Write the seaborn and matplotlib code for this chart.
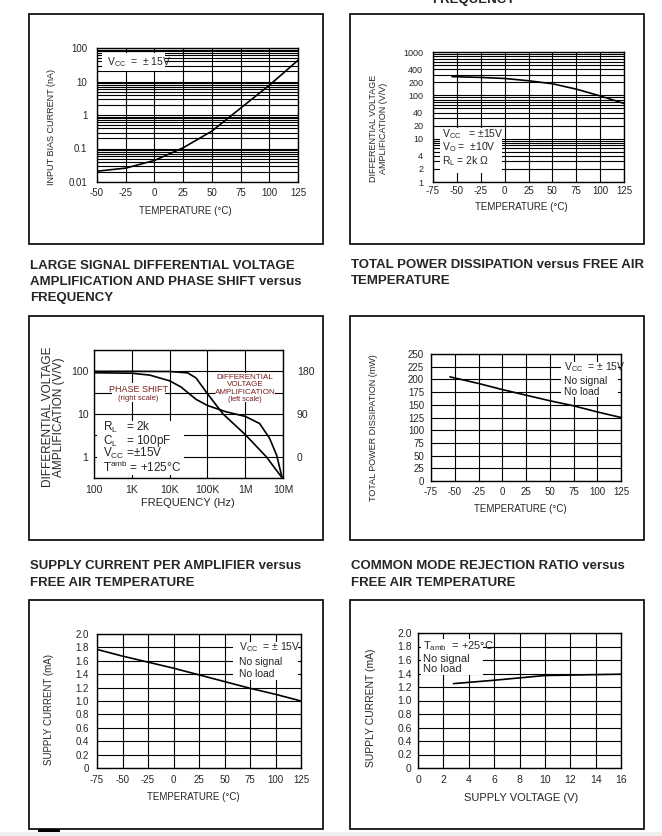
import numpy as np
import matplotlib
matplotlib.use('Agg')
import matplotlib.pyplot as plt
import seaborn as sns
from matplotlib import font_manager
from matplotlib.patches import Rectangle
from matplotlib.ticker import LogLocator, NullFormatter, FixedLocator

sns.set_style('white')


def has_font(name):
    try:
        font_manager.findfont(name, fallback_to_default=False)
        return True
    except Exception:
        return False


REG = 'Liberation Sans'
NARROW = 'Liberation Sans Narrow' if has_font('Liberation Sans Narrow') else REG
plt.rcParams['font.family'] = [REG, 'DejaVu Sans']

# ---- data ----
# input bias current vs temperature
temp_ib = [-50, -25, 0, 25, 50, 75, 100, 125]
ibias_na = [0.021, 0.026, 0.044, 0.105, 0.33, 1.6, 7.7, 43]

# differential voltage amplification vs temperature
temp_av = [-55, -25, 0, 25, 50, 75, 100, 125]
avd_vv = [270, 259, 245, 217, 185, 139, 97, 65]

# large signal gain / phase vs frequency
freq_gain = [1e2, 1e3, 1e4, 3e4, 5e4, 1e5, 2.6e5, 1e6, 3.6e6, 9.2e6]
gain_vv = [100, 100, 99, 92, 70, 30, 10, 3.3, 1.0, 0.33]
freq_phase = [1e2, 1e3, 3e3, 1e4, 2e4, 5e4, 1e5, 3e5, 1e6, 2.4e6, 4.4e6, 6.8e6, 9.5e6]
phase_deg = [177, 176, 172, 160, 147, 121, 108, 95, 85, 70, 39, 3, -45]

# total power dissipation vs temperature
temp_pd = [-55, -25, 0, 25, 50, 75, 100, 125]
pd_mw = [205, 192, 180, 169, 158, 148, 136, 125]

# supply current per amplifier vs temperature
temp_icc = [-75, -50, -25, 0, 25, 50, 75, 100, 125]
icc_ma = [1.77, 1.67, 1.58, 1.49, 1.39, 1.29, 1.19, 1.10, 1.0]

# supply current vs supply voltage
vcc_v = [2.8, 6, 10, 16]
icc2_ma = [1.25, 1.30, 1.37, 1.39]

temp_ticks = [-75, -50, -25, 0, 25, 50, 75, 100, 125]
freq_ticks = [1e2, 1e3, 1e4, 1e5, 1e6, 1e7]
freq_labels = ['100', '1K', '10K', '100K', '1M', '10M']

W, H = 662, 836
fig = plt.figure(figsize=(W / 100, H / 100), dpi=100)


def px_axes(l, t, r, b):
    return fig.add_axes([l / W, 1 - b / H, (r - l) / W, (b - t) / H])


def frame(l, t, r, b):
    fig.add_artist(Rectangle((l / W, 1 - b / H), (r - l) / W, (b - t) / H,
                             transform=fig.transFigure, fill=False,
                             ec='black', lw=1.2))


def title(x, ys, lines):
    for y, s in zip(ys, lines):
        fig.text(x / W, 1 - y / H, s, fontsize=9.5, fontweight='bold',
                 family=REG, va='center', ha='left')


def base(ax):
    ax.set_axisbelow(True)
    for s in ax.spines.values():
        s.set_visible(True)
        s.set_color('black')
        s.set_linewidth(1.0)
    ax.tick_params(which='both', length=0)


def whitebox(ax, x0, y0, x1, y1):
    ax.add_patch(Rectangle((x0, y0), x1 - x0, y1 - y0, transform=ax.transAxes,
                           fc='white', ec='none', zorder=1))


# frames and titles
fig.text(432 / W, 1 - 3 / H, 'FREQUENCY', fontsize=9.5, fontweight='bold',
         family=REG, va='baseline')
for (l, t, r, b) in [(29, 14, 323, 244), (350, 14, 644, 244),
                     (29, 316, 323, 540), (350, 316, 644, 540),
                     (29, 600, 323, 829), (350, 600, 644, 829)]:
    frame(l, t, r, b)
title(30, [266, 282, 298], ['LARGE SIGNAL DIFFERENTIAL VOLTAGE',
                            'AMPLIFICATION AND PHASE SHIFT versus',
                            'FREQUENCY'])
title(351, [265, 281], ['TOTAL POWER DISSIPATION versus FREE AIR',
                        'TEMPERATURE'])
title(30, [566, 583], ['SUPPLY CURRENT PER AMPLIFIER versus',
                       'FREE AIR TEMPERATURE'])
title(351, [566, 583], ['COMMON MODE REJECTION RATIO versus',
                        'FREE AIR TEMPERATURE'])

nfont = dict(fontfamily=NARROW, fontsize=7)
rfont = dict(fontfamily=REG, fontsize=7.5)

# ---- panel 1: input bias current ----
ax1 = px_axes(97, 48, 298, 182)
sns.lineplot(x=temp_ib, y=ibias_na, ax=ax1, color='black', lw=1.2)
base(ax1)
ax1.set_yscale('log')
ax1.set_xlim(-50, 125)
ax1.set_ylim(0.01, 100)
ax1.set_xticks(temp_ticks[1:])
ax1.set_xticklabels([str(t) for t in temp_ticks[1:]], **nfont)
ax1.set_yticks([0.01, 0.1, 1, 10, 100])
ax1.set_yticklabels(['0.01', '0.1', '1', '10', '100'], **nfont)
ax1.yaxis.set_minor_locator(LogLocator(base=10, subs=np.arange(2, 10)))
ax1.yaxis.set_minor_formatter(NullFormatter())
ax1.grid(True, axis='x', which='major', color='black', lw=0.8)
ax1.grid(True, axis='y', which='both', color='black', lw=0.8)
ax1.tick_params(axis='x', pad=4)
ax1.tick_params(axis='y', pad=7)
ax1.set_xlabel('TEMPERATURE (°C)', family=NARROW, fontsize=7)
ax1.set_ylabel('INPUT BIAS CURRENT (nA)', family=NARROW, fontsize=6.5)
ax1.xaxis.set_label_coords(0.438, -0.179)
ax1.yaxis.set_label_coords(-0.205, 0.41)
whitebox(ax1, 0.025, 0.828, 0.338, 0.963)
ax1.text(0.05, 0.895, r'V$_\mathregular{CC}$  =  ± 15V', transform=ax1.transAxes,
         va='center', ha='left', zorder=3, family=NARROW, fontsize=7.5)

# ---- panel 2: differential voltage amplification vs temperature ----
ax2 = px_axes(433, 52, 624, 182)
sns.lineplot(x=temp_av, y=avd_vv, ax=ax2, color='black', lw=1.2)
base(ax2)
ax2.set_yscale('log')
ax2.set_xlim(-75, 125)
ax2.set_ylim(1, 1000)
ax2.set_xticks(temp_ticks)
ax2.set_xticklabels([str(t) for t in temp_ticks], **nfont)
yt2 = [1, 2, 4, 10, 20, 40, 100, 200, 400, 1000]
ax2.set_yticks(yt2)
ax2.set_yticklabels([str(v) for v in yt2], fontfamily=NARROW, fontsize=6.5)
ax2.yaxis.set_minor_locator(LogLocator(base=10, subs=np.arange(2, 10)))
ax2.yaxis.set_minor_formatter(NullFormatter())
ax2.grid(True, axis='x', which='major', color='black', lw=0.8)
ax2.grid(True, axis='y', which='both', color='black', lw=0.8)
ax2.tick_params(axis='x', pad=3)
ax2.tick_params(axis='y', pad=7)
ax2.set_xlabel('TEMPERATURE (°C)', family=NARROW, fontsize=7)
ax2.set_ylabel('DIFFERENTIAL VOLTAGE\nAMPLIFICATION (V/V)', family=NARROW,
               fontsize=6.5, linespacing=1.1)
ax2.xaxis.set_label_coords(0.46, -0.154)
ax2.yaxis.set_label_coords(-0.236, 0.415)
whitebox(ax2, 0.037, 0.069, 0.361, 0.415)
for y, s in zip([0.369, 0.265, 0.158],
                [r'V$_\mathregular{CC}$   = ±15V', r'V$_\mathregular{O}$ =  ±10V',
                 r'R$_\mathregular{ L}$ = 2k Ω']):
    ax2.text(0.047, y, s, transform=ax2.transAxes, va='center', ha='left',
             zorder=3, family=NARROW, fontsize=7.5)

# ---- panel 3: gain and phase vs frequency ----
ax3 = px_axes(94, 350, 283, 478)
sns.lineplot(x=freq_gain, y=gain_vv, ax=ax3, color='black', lw=1.2)
base(ax3)
ax3.set_xscale('log')
ax3.set_yscale('log')
ax3.set_xlim(1e2, 1e7)
ax3.set_ylim(10 ** -0.5, 10 ** 2.5)
ax3.set_xticks(freq_ticks)
ax3.set_xticklabels(freq_labels, **rfont)
ax3.xaxis.set_minor_locator(LogLocator(base=10, subs=np.arange(2, 10)))
ax3.xaxis.set_minor_formatter(NullFormatter())
ax3.set_yticks([1, 10, 100])
ax3.set_yticklabels(['1', '10', '100'], **rfont)
ax3.yaxis.set_minor_locator(FixedLocator([10 ** -0.5, 10 ** 0.5, 10 ** 1.5, 10 ** 2.5]))
ax3.yaxis.set_minor_formatter(NullFormatter())
ax3.grid(True, axis='x', which='both', color='black', lw=0.8)
ax3.grid(True, axis='y', which='both', color='black', lw=0.8)
ax3.tick_params(axis='x', pad=5)
ax3.tick_params(axis='y', pad=4)
ax3.set_xlabel('FREQUENCY (Hz)', family=REG, fontsize=8)
ax3.set_ylabel('DIFFERENTIAL VOLTAGE\nAMPLIFICATION (V/V)', family=REG,
               fontsize=8.5, linespacing=0.95)
ax3.xaxis.set_label_coords(0.497, -0.16)
ax3.yaxis.set_label_coords(-0.153, 0.477)

ax3b = ax3.twinx()
sns.lineplot(x=freq_phase, y=phase_deg, ax=ax3b, color='black', lw=1.2)
ax3b.patch.set_visible(False)
ax3b.set_ylim(-45, 225)
ax3b.set_yticks([0, 90, 180])
ax3b.set_yticklabels(['0', '90', '180'], **rfont)
ax3b.tick_params(which='both', length=0, pad=10)
ax3b.set_ylabel('')
ax3b.grid(False)
for s in ax3b.spines.values():
    s.set_visible(False)

whitebox(ax3, 0.095, 0.594, 0.376, 0.742)
whitebox(ax3, 0.64, 0.594, 0.958, 0.82)
whitebox(ax3, 0.016, 0.023, 0.476, 0.445)
red = '#7a1c1c'
ax3.text(0.233, 0.695, 'PHASE SHIFT', transform=ax3.transAxes, ha='center',
         va='center', color=red, fontsize=6.5, zorder=3)
ax3.text(0.233, 0.625, '(right scale)', transform=ax3.transAxes, ha='center',
         va='center', color=red, fontsize=5.5, zorder=3)
for y, s, fs in zip([0.785, 0.727, 0.668, 0.61],
                    ['DIFFERENTIAL', 'VOLTAGE', 'AMPLIFICATION', '(left scale)'],
                    [5.8, 5.8, 5.8, 5.3]):
    ax3.text(0.80, y, s, transform=ax3.transAxes, ha='center', va='center',
             color=red, fontsize=fs, zorder=3)
for y, s in zip([0.392, 0.29, 0.19, 0.083],
                [r'R$_\mathregular{L}$   = 2k', r'C$_\mathregular{L}$   = 100pF',
                 r'V$_\mathregular{CC}$ =±15V', r'T$^\mathregular{amb}$ = +125°C']):
    ax3.text(0.045, y, s, transform=ax3.transAxes, ha='left', va='center',
             fontsize=8.5, zorder=3)

# ---- panel 4: total power dissipation ----
ax4 = px_axes(431, 354, 621, 481)
sns.lineplot(x=temp_pd, y=pd_mw, ax=ax4, color='black', lw=1.2)
base(ax4)
ax4.set_xlim(-75, 125)
ax4.set_ylim(0, 250)
ax4.set_xticks(temp_ticks)
ax4.set_xticklabels([str(t) for t in temp_ticks], **nfont)
yt4 = list(range(0, 251, 25))
ax4.set_yticks(yt4)
ax4.set_yticklabels([str(v) for v in yt4], **nfont)
ax4.grid(True, color='black', lw=0.8)
ax4.tick_params(axis='x', pad=4)
ax4.tick_params(axis='y', pad=5)
ax4.set_xlabel('TEMPERATURE (°C)', family=NARROW, fontsize=7)
ax4.set_ylabel('TOTAL POWER DISSIPATION (mW)', family=NARROW, fontsize=6.5)
ax4.xaxis.set_label_coords(0.468, -0.181)
ax4.yaxis.set_label_coords(-0.279, 0.417)
whitebox(ax4, 0.684, 0.661, 0.984, 0.937)
for y, s in zip([0.898, 0.787, 0.70],
                [r'V$_\mathregular{CC}$  = ± 15V', 'No signal', 'No load']):
    ax4.text(0.70, y, s, transform=ax4.transAxes, ha='left', va='center',
             family=NARROW, fontsize=7.5, zorder=3)

# ---- panel 5: supply current vs temperature ----
ax5 = px_axes(97, 634, 301, 768)
sns.lineplot(x=temp_icc, y=icc_ma, ax=ax5, color='black', lw=1.2)
base(ax5)
ax5.set_xlim(-75, 125)
ax5.set_ylim(0, 2.0)
ax5.set_xticks(temp_ticks)
ax5.set_xticklabels([str(t) for t in temp_ticks], **nfont)
yt5 = [0, 0.2, 0.4, 0.6, 0.8, 1.0, 1.2, 1.4, 1.6, 1.8, 2.0]
ax5.set_yticks(yt5)
ax5.set_yticklabels(['0'] + [f'{v:.1f}' for v in yt5[1:]], **nfont)
ax5.grid(True, color='black', lw=0.8)
ax5.tick_params(axis='x', pad=5)
ax5.tick_params(axis='y', pad=6)
ax5.set_xlabel('TEMPERATURE (°C)', family=NARROW, fontsize=7)
ax5.set_ylabel('SUPPLY CURRENT (mA)', family=NARROW, fontsize=7)
ax5.xaxis.set_label_coords(0.47, -0.179)
ax5.yaxis.set_label_coords(-0.211, 0.433)
whitebox(ax5, 0.667, 0.657, 0.985, 0.94)
for y, s in zip([0.903, 0.791, 0.70],
                [r'V$_\mathregular{CC}$  = ± 15V', 'No signal', 'No load']):
    ax5.text(0.696, y, s, transform=ax5.transAxes, ha='left', va='center',
             family=NARROW, fontsize=7.5, zorder=3)

# ---- panel 6: supply current vs supply voltage ----
ax6 = px_axes(418, 633, 621, 768)
sns.lineplot(x=vcc_v, y=icc2_ma, ax=ax6, color='black', lw=1.2)
base(ax6)
ax6.set_xlim(0, 16)
ax6.set_ylim(0, 2.0)
xt6 = list(range(0, 17, 2))
ax6.set_xticks(xt6)
ax6.set_xticklabels([str(v) for v in xt6], **rfont)
ax6.set_yticks(yt5)
ax6.set_yticklabels(['0'] + [f'{v:.1f}' for v in yt5[1:]], **rfont)
ax6.grid(True, color='black', lw=0.8)
ax6.tick_params(axis='x', pad=5)
ax6.tick_params(axis='y', pad=4.5)
ax6.set_xlabel('SUPPLY VOLTAGE (V)', family=REG, fontsize=8)
ax6.set_ylabel('SUPPLY CURRENT (mA)', family=REG, fontsize=7.5)
ax6.xaxis.set_label_coords(0.507, -0.185)
ax6.yaxis.set_label_coords(-0.207, 0.448)
whitebox(ax6, 0.015, 0.689, 0.32, 0.956)
for y, s in zip([0.904, 0.807, 0.733],
                [r'T$_\mathregular{amb}$  = +25°C', 'No signal', 'No load']):
    ax6.text(0.025, y, s, transform=ax6.transAxes, ha='left', va='center',
             family=REG, fontsize=8, zorder=3)

# page bottom edge
fig.add_artist(Rectangle((0, 0), 1, 4 / H, transform=fig.transFigure,
                         fc='#eeeeee', ec='none'))
fig.add_artist(Rectangle((38 / W, 1 - 832 / H), 22 / W, 3 / H,
                         transform=fig.transFigure, fc='black', ec='none'))

fig.savefig('out.png', dpi=100)
